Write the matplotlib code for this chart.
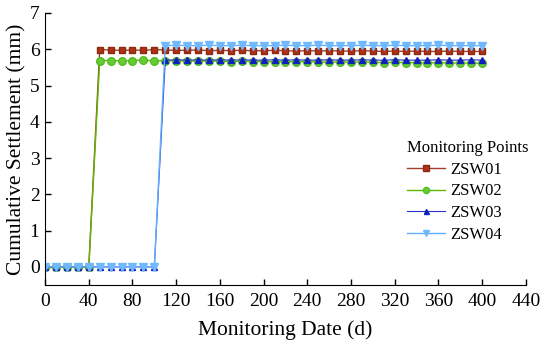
import matplotlib
matplotlib.use("Agg")
import matplotlib.pyplot as plt

plt.rcParams['font.family'] = ['Liberation Serif', 'DejaVu Serif']

# Monitoring date (d), one reading every 10 days
dias = [0, 10, 20, 30, 40, 50, 60, 70, 80, 90, 100, 110, 120, 130, 140, 150, 160, 170, 180, 190,
        200, 210, 220, 230, 240, 250, 260, 270, 280, 290, 300, 310, 320, 330, 340, 350, 360, 370,
        380, 390, 400]

zsw01 = [0.0, 0.0, 0.0, 0.0, 0.0, 5.99, 5.98, 5.97, 5.98, 5.97, 5.99, 5.98, 5.97, 5.97, 5.98, 5.96,
         5.97, 5.96, 5.97, 5.96, 5.96, 5.97, 5.96, 5.95, 5.96, 5.95, 5.96, 5.95, 5.95, 5.96, 5.95,
         5.94, 5.95, 5.94, 5.95, 5.94, 5.94, 5.95, 5.94, 5.94, 5.94]
zsw02 = [0.0, 0.0, 0.0, 0.0, 0.0, 5.69, 5.69, 5.68, 5.69, 5.70, 5.68, 5.69, 5.68, 5.68, 5.67, 5.68,
         5.67, 5.66, 5.67, 5.66, 5.66, 5.65, 5.66, 5.65, 5.66, 5.65, 5.64, 5.65, 5.64, 5.65, 5.64,
         5.63, 5.64, 5.63, 5.63, 5.62, 5.63, 5.62, 5.62, 5.62, 5.61]
zsw03 = [0.0, 0.0, 0.0, 0.0, 0.0, 0.0, 0.0, 0.0, 0.0, 0.0, 0.0, 5.70, 5.71, 5.70, 5.71, 5.70,
         5.71, 5.70, 5.71, 5.70, 5.70, 5.71, 5.70, 5.71, 5.70, 5.70, 5.71, 5.70, 5.70, 5.71, 5.70,
         5.70, 5.71, 5.70, 5.70, 5.70, 5.71, 5.70, 5.70, 5.71, 5.70]
zsw04 = [0.0, 0.0, 0.0, 0.0, 0.0, 0.0, 0.0, 0.0, 0.0, 0.0, 0.0, 6.10, 6.11, 6.10, 6.10, 6.11,
         6.10, 6.10, 6.11, 6.10, 6.10, 6.10, 6.11, 6.10, 6.10, 6.11, 6.10, 6.10, 6.10, 6.11, 6.10,
         6.10, 6.11, 6.10, 6.10, 6.10, 6.11, 6.10, 6.10, 6.10, 6.10]

fig = plt.figure(figsize=(5.5, 3.51), dpi=100)
ax = fig.add_axes([0.082, 0.188, 0.874, 0.775])

ax.plot(dias, zsw01, color='#a0402a', lw=1.0, marker='s', ms=5, mfc='#b03018', mec='#8b2a10', label='ZSW01')
ax.plot(dias, zsw02, color='#5cb800', lw=1.0, marker='o', ms=5.5, mfc='#66cc33', mec='#55bb22', label='ZSW02')
ax.plot(dias, zsw03, color='#3030d0', lw=0.8, marker='^', ms=4.5, mfc='#1020c0', mec='#1020c0', label='ZSW03')
ax.plot(dias, zsw04, color='#60b0ff', lw=1.0, marker='v', ms=6, mfc='#70b8ff', mec='#70b8ff', label='ZSW04')

ax.set_xlim(0, 440)
ax.set_ylim(-0.5, 7)
ax.set_xticks(range(0, 441, 40))
ax.set_yticks(range(0, 8))
ax.tick_params(direction='in', labelsize=14, length=4, width=1)
ax.tick_params(axis='x', pad=6)
ax.tick_params(axis='y', pad=4)
ax.spines['top'].set_visible(False)
ax.spines['right'].set_visible(False)

ax.set_xlabel('Monitoring Date (d)', fontsize=15.5, labelpad=7)
ax.set_ylabel('Cumulative Settlement (mm)', fontsize=15.5, labelpad=2)

leg = ax.legend(title='Monitoring Points', loc='upper left', bbox_to_anchor=(0.752, 0.534),
                frameon=False, fontsize=12, title_fontsize=12, handlelength=2.3,
                labelspacing=0.35, borderpad=0, borderaxespad=0, handletextpad=0.3,
                markerscale=0.8)
leg._legend_box.align = 'left'

fig.savefig('out.png', dpi=100)
